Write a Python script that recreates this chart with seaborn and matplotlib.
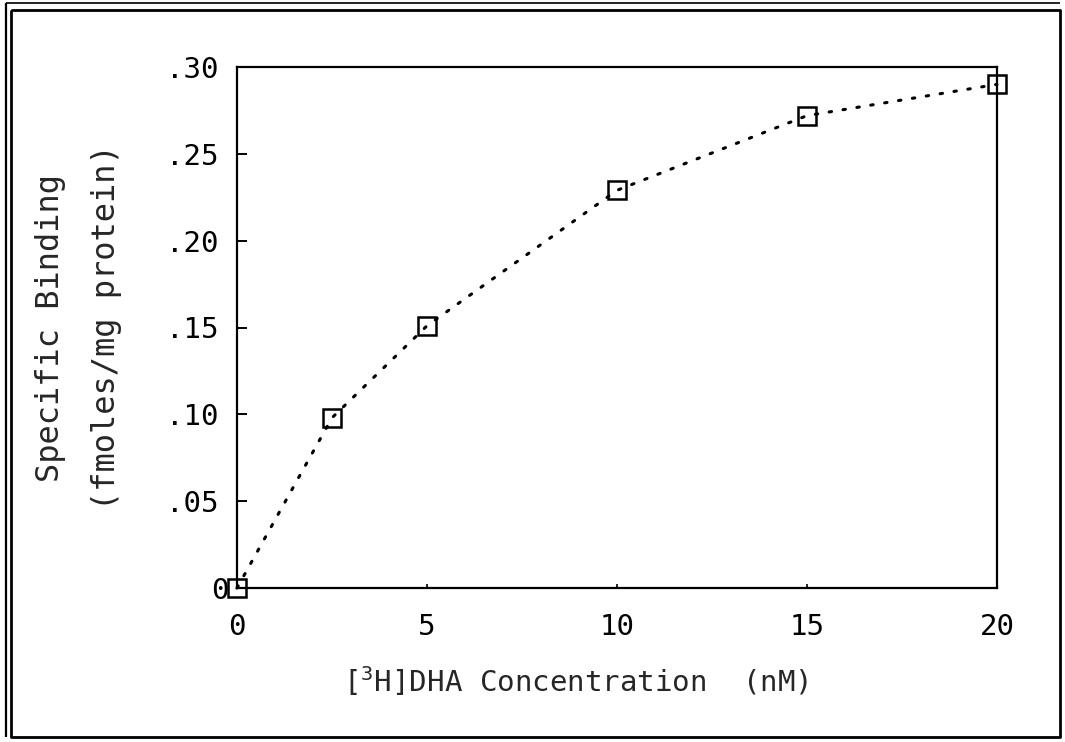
import matplotlib
matplotlib.use("Agg")
import matplotlib.pyplot as plt
from matplotlib.lines import Line2D
import seaborn as sns
import pandas as pd

# Saturation binding of [3H]DHA
concentration_nM = [0.0, 2.5, 5.0, 10.0, 15.0, 20.0]
specific_binding = [0.0, 0.098, 0.151, 0.229, 0.272, 0.290]

x_ticks = [0, 5, 10, 15, 20]
y_ticks = [0.0, 0.05, 0.10, 0.15, 0.20, 0.25, 0.30]
y_tick_labels = ["0", ".05", ".10", ".15", ".20", ".25", ".30"]

sns.set_theme(style="white")
plt.rcParams["font.family"] = ["DejaVu Sans Mono", "DejaVu Sans"]
plt.rcParams["mathtext.fontset"] = "custom"
plt.rcParams["mathtext.rm"] = "DejaVu Sans Mono"
plt.rcParams["mathtext.it"] = "DejaVu Sans Mono"
plt.rcParams["text.color"] = "black"

W, H = 1065, 742
fig = plt.figure(figsize=(W / 100, H / 100), dpi=100)
fig.patch.set_facecolor("white")

left, right, top, bottom = 237, 997, 67, 588
ax = fig.add_axes([left / W, 1 - bottom / H, (right - left) / W, (bottom - top) / H])

df = pd.DataFrame({"conc": concentration_nM, "binding": specific_binding})
sns.lineplot(
    data=df, x="conc", y="binding", ax=ax,
    color="black", lw=2.2, linestyle=(0, (0.8, 3.8)),
    dash_capstyle="round",
    marker="s", markersize=13, markerfacecolor="none",
    markeredgecolor="black", markeredgewidth=1.8, clip_on=False,
)

ax.set_xlim(0, 20)
ax.set_ylim(0, 0.30)
ax.set_xticks(x_ticks)
ax.set_xticklabels([str(t) for t in x_ticks])
ax.set_yticks(y_ticks)
ax.set_yticklabels(y_tick_labels)

for s in ax.spines.values():
    s.set_color("black")
    s.set_linewidth(1.6)

ax.tick_params(axis="y", direction="in", length=7, width=1.4, pad=13,
               labelsize=21, colors="black", left=True)
ax.tick_params(axis="x", direction="in", length=3, width=1.2, pad=18,
               labelsize=21, colors="black", bottom=True)
ax.yaxis.get_major_ticks()[0].set_pad(6)

ax.set_xlabel("[$^3$H]DHA Concentration  (nM)", fontsize=21, va="center")
ax.xaxis.set_label_coords(0.446, -0.178)
ax.set_ylabel("Specific Binding\n(fmoles/mg protein)", fontsize=23,
              linespacing=2.05, va="center", ha="center")
ax.yaxis.set_label_coords(-0.209, 0.5)

# Double-ruled border around the whole figure
def fig_line(xs, ys, lw):
    fig.add_artist(Line2D([x / W for x in xs], [1 - y / H for y in ys],
                          transform=fig.transFigure, color="black", lw=lw,
                          solid_capstyle="butt"))

fig_line([11, 1060, 1060, 11, 11], [10, 10, 737, 737, 10], 2.0)
fig_line([6, 6], [3, 737], 1.6)
fig_line([6, 1060], [3, 3], 1.2)

fig.savefig("out.png", dpi=100, facecolor="white")
